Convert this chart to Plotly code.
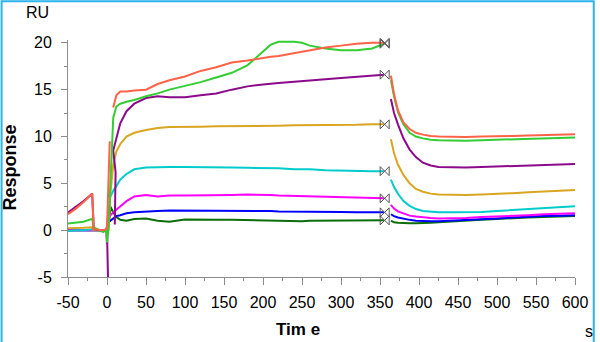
import plotly.graph_objects as go

# ---------------- data ----------------
t_pre = [-50, -40, -30, -19, -17, -10, -5, -1]
t_assoc = [8, 12, 17, 25, 35, 50, 65, 80, 100, 120, 140, 160, 180, 200, 210,
           220, 240, 250, 260, 280, 300, 320, 340, 355]
t_diss = [364, 368, 373, 380, 388, 396, 405, 415, 425, 440, 460, 480, 500,
          520, 540, 560, 580, 600]

# tomato
red_pre = [1.7, 2.3, 3.0, 3.9, 0.1, 0.0, 0.0, 0.1]
red_inj_t = [0, 3.5]
red_inj = [0.2, 9.5]
red_assoc = [13.1, 14.4, 14.8, 14.8, 14.9, 15.0, 15.6, 16.0, 16.4, 17.0, 17.4,
             17.9, 18.1, 18.4, 18.5, 18.6, 18.9, 19.0, 19.2, 19.5, 19.7, 19.9,
             20.0, 20.0]
red_diss = [16.5, 14.5, 12.8, 11.5, 10.8, 10.4, 10.2, 10.05, 10.0, 9.95, 9.95,
            10.0, 10.0, 10.05, 10.1, 10.15, 10.2, 10.25]

# lime green
green_pre = [0.7, 0.8, 0.9, 1.2, 0.3, 0.0, -0.2, 0.0]
green_inj_t = [0, 2, 7]
green_inj = [-1.3, 0.3, 10.4]
green_assoc = [12.0, 13.2, 13.5, 13.7, 13.9, 14.3, 14.6, 15.0, 15.4, 15.8, 16.3,
               16.8, 17.6, 19.1, 19.8, 20.1, 20.1, 20.0, 19.7, 19.4, 19.2, 19.2,
               19.4, 19.9]
green_diss = [16.0, 14.3, 12.6, 11.3, 10.4, 10.0, 9.8, 9.65, 9.6, 9.55, 9.55,
              9.6, 9.65, 9.7, 9.75, 9.8, 9.85, 9.9]

# purple
purple_pre = [1.9, 2.5, 3.1, 3.9, 0.1, 0.0, 0.0, 0.0]
purple_inj_t = [0, 1.5, None, 10, 11]
purple_inj = [0.0, -6.0, None, 0.6, 6.2]
purple_assoc = [8.5, 9.7, 11.4, 12.7, 13.5, 14.1, 14.3, 14.2, 14.2, 14.4, 14.6,
                15.0, 15.35, 15.55, 15.6, 15.7, 15.85, 15.9, 16.0, 16.1, 16.25,
                16.4, 16.5, 16.6]
purple_diss = [14.0, 12.5, 11.3, 9.8, 8.6, 7.8, 7.2, 6.9, 6.75, 6.7, 6.7, 6.75,
               6.8, 6.85, 6.9, 6.95, 7.0, 7.05]

# goldenrod
gold_pre = [0.2, 0.2, 0.25, 0.3, 0.0, 0.0, 0.0, 0.0]
gold_inj_t = [2, 4, 6.5]
gold_inj = [0.0, 3.6, 5.8]
gold_assoc = [7.0, 8.4, 9.2, 10.0, 10.4, 10.7, 10.9, 11.0, 11.0, 11.05, 11.1,
              11.1, 11.1, 11.15, 11.15, 11.15, 11.2, 11.2, 11.2, 11.2, 11.25,
              11.25, 11.3, 11.3]
gold_diss = [9.7, 8.2, 7.0, 5.9, 5.0, 4.4, 4.1, 3.9, 3.8, 3.75, 3.75, 3.8, 3.85,
             3.95, 4.05, 4.1, 4.2, 4.3]

# cyan
cyan_pre = [-0.1, 0.0, 0.0, 0.1, 0.0, 0.0, 0.0, 0.0]
cyan_inj_t = [1, 4]
cyan_inj = [0.0, 3.5]
cyan_assoc = [4.2, 4.7, 5.4, 6.0, 6.5, 6.7, 6.75, 6.75, 6.75, 6.75, 6.7, 6.7,
              6.65, 6.65, 6.6, 6.6, 6.5, 6.5, 6.5, 6.4, 6.35, 6.3, 6.3, 6.3]
cyan_diss = [5.4, 4.6, 3.9, 3.1, 2.6, 2.25, 2.05, 1.95, 1.9, 1.9, 1.9, 1.95,
             2.05, 2.15, 2.25, 2.35, 2.45, 2.55]

# magenta
mag_pre = [0.0, 0.0, 0.0, 0.0, 0.0, 0.0, 0.0, 0.0]
mag_inj_t = [0, 1]
mag_inj = [-1.5, 1.3]
mag_assoc = [1.9, 2.2, 2.6, 3.1, 3.6, 3.75, 3.6, 3.7, 3.7, 3.7, 3.75, 3.75,
             3.8, 3.8, 3.75, 3.7, 3.65, 3.6, 3.6, 3.55, 3.5, 3.45, 3.4, 3.4]
mag_diss = [2.7, 2.3, 2.0, 1.75, 1.55, 1.45, 1.35, 1.3, 1.25, 1.25, 1.3, 1.4,
            1.45, 1.55, 1.6, 1.7, 1.75, 1.8]

# blue
blue_pre = [0.0, 0.0, 0.0, 0.0, 0.0, 0.0, 0.0, 0.0]
blue_inj_t = [1]
blue_inj = [0.8]
blue_assoc = [1.3, 1.5, 1.6, 1.8, 1.9, 2.0, 2.05, 2.1, 2.1, 2.05, 2.05, 2.05,
              2.1, 2.05, 2.05, 2.0, 2.0, 2.0, 2.0, 1.95, 1.95, 1.9, 1.9, 1.9]
blue_diss = [1.7, 1.5, 1.35, 1.2, 1.1, 1.0, 0.95, 0.95, 0.95, 1.0, 1.05, 1.15,
             1.25, 1.35, 1.45, 1.5, 1.55, 1.6]

# dark green
dkg_pre = [0.0, 0.0, 0.0, 0.0, 0.0, 0.0, 0.0, 0.0]
dkg_inj_t = [2, 4.5]
dkg_inj = [0.3, 2.5]
dkg_assoc = [1.9, 1.4, 1.1, 1.0, 1.2, 1.25, 1.0, 0.9, 1.15, 1.1, 1.1, 1.1,
             1.05, 1.0, 1.0, 1.0, 0.95, 0.95, 1.0, 1.0, 1.0, 1.05, 1.05, 1.05]
dkg_diss = [1.0, 0.85, 0.8, 0.75, 0.75, 0.75, 0.75, 0.8, 0.85, 0.9, 1.0, 1.1,
            1.2, 1.3, 1.35, 1.4, 1.45, 1.5]

x_ticks = [-50, 0, 50, 100, 150, 200, 250, 300, 350, 400, 450, 500, 550, 600]
x_labels = ["-50", "0", "50", "100", "150", "200", "250", "300", "350", "400",
            "450", "500", "550", "600"]
y_ticks = [-5, 0, 5, 10, 15, 20]
y_labels = ["-5", "0", "5", "10", "15", "20"]
t_mark = 356

# ---------------- figure ----------------
series = [
    ("#0B6E0B", dkg_pre, dkg_inj_t, dkg_inj, dkg_assoc, dkg_diss),
    ("#0000FF", blue_pre, blue_inj_t, blue_inj, blue_assoc, blue_diss),
    ("#FF00FF", mag_pre, mag_inj_t, mag_inj, mag_assoc, mag_diss),
    ("#00CCCC", cyan_pre, cyan_inj_t, cyan_inj, cyan_assoc, cyan_diss),
    ("#DAA520", gold_pre, gold_inj_t, gold_inj, gold_assoc, gold_diss),
    ("#8B0A8B", purple_pre, purple_inj_t, purple_inj, purple_assoc, purple_diss),
    ("#33CC33", green_pre, green_inj_t, green_inj, green_assoc, green_diss),
    ("#FF6347", red_pre, red_inj_t, red_inj, red_assoc, red_diss),
]

fig = go.Figure()
for color, pre, inj_t, inj, assoc, diss in series:
    if color == "#FF6347":
        xs = t_pre + inj_t + [None] + t_assoc + [None] + t_diss
        ys = pre + inj + [None] + assoc + [None] + diss
    else:
        xs = t_pre + inj_t + t_assoc + [None] + t_diss
        ys = pre + inj + assoc + [None] + diss
    fig.add_trace(go.Scatter(x=xs, y=ys, mode="lines",
                             line=dict(color=color, width=2),
                             connectgaps=False, showlegend=False,
                             hoverinfo="skip"))

end_vals = [s[4][-1] for s in series]
fig.add_trace(go.Scatter(x=[t_mark] * len(end_vals), y=end_vals, mode="markers",
                         marker=dict(symbol="bowtie-open", size=9,
                                     color="#555555", line=dict(width=1)),
                         showlegend=False, hoverinfo="skip", cliponaxis=False))

font_family = "Liberation Sans, Arial, sans-serif"
axis_color = "#8C8C8C"

fig.update_layout(
    width=600, height=342,
    margin=dict(l=68, r=21, t=40, b=65),
    paper_bgcolor="white", plot_bgcolor="white",
    font=dict(family=font_family, size=16, color="black"),
    xaxis=dict(range=[-50, 600], tickvals=x_ticks, ticktext=x_labels,
               showgrid=False,
               zeroline=False, showline=True, linecolor=axis_color, linewidth=1,
               ticks="outside", ticklen=7, tickcolor=axis_color,
               ticklabelstandoff=4,
               minor=dict(dtick=25, tick0=-50, ticks="outside", ticklen=3,
                          tickcolor=axis_color, showgrid=False),
               tickfont=dict(size=16)),
    yaxis=dict(range=[-5, 20.3], tickvals=y_ticks, ticktext=y_labels,
               showgrid=False,
               zeroline=False, showline=True, linecolor=axis_color, linewidth=1,
               ticks="outside", ticklen=6, tickcolor=axis_color,
               ticklabelstandoff=6,
               minor=dict(dtick=2.5, tick0=-5, ticks="outside", ticklen=3,
                          tickcolor=axis_color, showgrid=False),
               tickfont=dict(size=16)),
    shapes=[dict(type="rect", xref="paper", yref="paper",
                 x0=-0.131, x1=1.037, y0=-0.35, y1=1.164,
                 line=dict(color="#2BB3EC", width=2), layer="above")],
    annotations=[
        dict(text="RU", xref="paper", yref="paper", x=-0.0607, y=1.118,
             xanchor="center", yanchor="middle",
             showarrow=False, font=dict(size=16)),
        dict(text="<b>Response</b>", xref="paper", yref="paper", x=-0.1135,
             y=0.464, xanchor="center", yanchor="middle",
             textangle=-90, showarrow=False, font=dict(size=18)),
        dict(text="<b>Tim e</b>", xref="paper", yref="paper", x=0.454,
             y=-0.2236, xanchor="center", yanchor="middle",
             showarrow=False, font=dict(size=17)),
        dict(text="s", xref="paper", yref="paper", x=1.027, y=-0.232,
             xanchor="center", yanchor="middle",
             showarrow=False, font=dict(size=16)),
    ],
)

fig.write_html("out.html")
